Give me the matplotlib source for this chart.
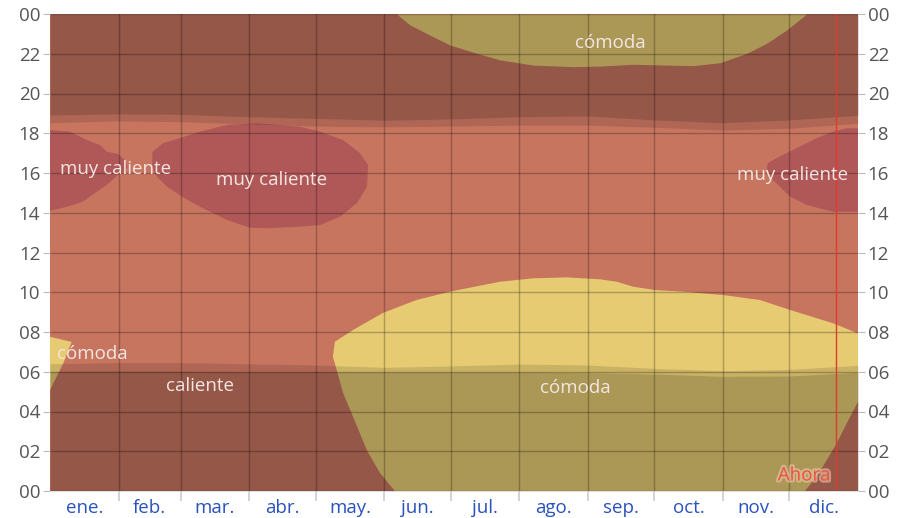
import numpy as np
import matplotlib
matplotlib.use("Agg")
import matplotlib.pyplot as plt
import matplotlib.patheffects as pe

plt.rcParams["font.family"] = ["Open Sans", "DejaVu Sans"]

# month starts (day of year) and labels
month_starts = [0, 31, 59, 90, 120, 151, 181, 212, 243, 273, 304, 334, 365]
month_labels = ["ene.", "feb.", "mar.", "abr.", "may.", "jun.",
                "jul.", "ago.", "sep.", "oct.", "nov.", "dic."]

# night / twilight edges (hours) at month starts
night_end = [6.02, 6.04, 6.03, 6.0, 6.0, 5.99, 5.99, 5.99, 5.95, 5.89, 5.77, 5.79, 5.97]
dawn_end = [6.40, 6.46, 6.46, 6.40, 6.34, 6.22, 6.29, 6.39, 6.34, 6.17, 6.05, 6.12, 6.32]
dusk_start = [18.53, 18.62, 18.58, 18.47, 18.36, 18.32, 18.36, 18.41, 18.41, 18.30, 18.16, 18.25, 18.5]
night_start = [18.92, 18.97, 18.95, 18.83, 18.75, 18.65, 18.72, 18.83, 18.87, 18.67, 18.53, 18.67, 18.9]

# "muy caliente" regions (day, hour) outlines
hot1_days = [0, 9, 16.7, 22.6, 25.7, 30.7, 33.9, 35, 33.9, 30.7, 25.7, 21.2, 14.9, 7.7, 0]
hot1_hours = [18.16, 18.08, 17.66, 17.4, 17.07, 16.96, 16.65, 16.3, 16.1, 15.9, 15.4, 15.06, 14.56, 14.3, 14.1]

hot2_days = [46.2, 51, 58.7, 67.8, 80, 93.5, 113, 122, 132.4, 140, 143.7,
             143.2, 138.7, 131, 122, 113, 98, 90.3, 80, 67.8, 59.6, 52.9, 48.3, 46.2]
hot2_hours = [17.05, 17.5, 17.76, 18.08, 18.42, 18.5, 18.33, 18.08, 17.66, 17.0, 16.4,
              15.31, 14.49, 13.8, 13.38, 13.3, 13.22, 13.25, 13.63, 14.3, 14.81, 15.31, 15.81, 16.3]

hot3_days = [365, 359.9, 353.7, 346.3, 338.8, 329.8, 324.3, 323.8, 326.6, 334.3, 341.8, 353.7, 365]
hot3_hours = [18.25, 18.25, 18.08, 17.75, 17.34, 16.84, 16.5, 16.25, 15.65, 14.81, 14.39, 14.05, 14.05]

# "cómoda" regions
comf_top_days = [156.6, 162.6, 173, 180.7, 192.8, 203.3, 218.2, 236.3, 248.5, 263.4,
                 278.6, 290.5, 302.7, 314.7, 323.8, 332.8, 341.8]
comf_top_hours = [24, 23.45, 22.86, 22.44, 22.02, 21.69, 21.43, 21.35, 21.38, 21.47,
                  21.43, 21.4, 21.55, 22.02, 22.53, 23.2, 24]

comf_bot_days = [155.8, 149.1, 143.1, 136.9, 132.4, 129.5, 127.8, 128.7, 136.9, 150.4,
                 165.6, 180.7, 203.3, 218.2, 233.4, 248.5, 256, 263.4, 273.3, 285.9,
                 304, 320.7, 334.3, 353.7, 365, 365, 359.9, 355.4, 350.9, 346.3, 341]
comf_bot_hours = [0, 0.9, 2.06, 3.74, 4.93, 6.09, 6.76, 7.51, 8.1, 8.96,
                  9.61, 10.03, 10.53, 10.7, 10.75, 10.65, 10.53, 10.28, 10.11, 10.03,
                  9.86, 9.61, 9.11, 8.44, 7.93, 4.49, 3.41, 2.4, 1.56, 0.72, 0]

comf_jan_days = [0, 9.8, 6.0, 0]
comf_jan_hours = [7.76, 7.5, 6.43, 5.08]

today = 355.1

c_hot = "#c87560"
c_very_hot = "#b05858"
c_comf = "#e6cb73"

fig = plt.figure(figsize=(9.05, 5.18), dpi=100)
ax = fig.add_axes([50 / 905, 27 / 518, 808 / 905, 477 / 518])

ax.fill_between([0, 365], 0, 24, color=c_hot, lw=0, zorder=1)
ax.fill(hot1_days, hot1_hours, color=c_very_hot, lw=0, zorder=1.1)
ax.fill(hot2_days, hot2_hours, color=c_very_hot, lw=0, zorder=1.1)
ax.fill(hot3_days, hot3_hours, color=c_very_hot, lw=0, zorder=1.1)
ax.fill_between(comf_top_days, comf_top_hours, 24, color=c_comf, lw=0, zorder=1.1)
ax.fill(comf_bot_days, comf_bot_hours, color=c_comf, lw=0, zorder=1.1)
ax.fill(comf_jan_days, comf_jan_hours, color=c_comf, lw=0, zorder=1.1)

# night shading
ax.fill_between(month_starts, 0, night_end, color="black", alpha=0.25, lw=0, zorder=1.2)
ax.fill_between(month_starts, night_end, dawn_end, color="black", alpha=0.12, lw=0, zorder=1.2)
ax.fill_between(month_starts, dusk_start, night_start, color="black", alpha=0.12, lw=0, zorder=1.2)
ax.fill_between(month_starts, night_start, 24, color="black", alpha=0.25, lw=0, zorder=1.2)

ax.axvline(today, color="#e03a2c", lw=1, zorder=3)
ax.text(today - 2.5, 0.78, "Ahora", color="#e8553f", fontsize=13.5, ha="right", va="center",
        zorder=4, path_effects=[pe.withStroke(linewidth=3, foreground="#f0c8b0", alpha=0.6)])

lab = dict(color="#f3e6e2", fontsize=13.5, ha="center", va="center", zorder=4)
ax.text(29.5, 16.2, "muy caliente", **lab)
ax.text(100.3, 15.65, "muy caliente", **lab)
ax.text(335.5, 15.9, "muy caliente", **lab)
ax.text(253, 22.55, "cómoda", **lab)
ax.text(19, 6.9, "cómoda", **lab)
ax.text(237.5, 5.2, "cómoda", **lab)
ax.text(67.8, 5.27, "caliente", **lab)

ax.set_xlim(0, 365)
ax.set_ylim(0, 24)
ax.set_xticks(month_starts[1:-1])
ax.set_xticklabels([])
mids = [(month_starts[i] + month_starts[i + 1]) / 2 for i in range(12)]
ax.set_xticks(mids, minor=True)
ax.set_xticklabels(month_labels, minor=True)
ax.tick_params(axis="x", which="major", length=7, color="#cccccc", width=1.2)
ax.tick_params(axis="x", which="minor", length=0, labelcolor="#2a52be", labelsize=13.5, pad=6)

hours = list(range(0, 25, 2))
ax.set_yticks(hours)
ax.set_yticklabels(["%02d" % (h % 24) for h in hours])
ax.tick_params(axis="y", left=True, right=True, labelleft=True, labelright=True,
               length=5, color="#bbbbbb", labelcolor="#555555", labelsize=13.5, pad=2)

ax.set_axisbelow(False)
ax.grid(True, which="major", color="black", alpha=0.25, lw=1)
for s in ax.spines.values():
    s.set_visible(False)

fig.savefig("out.png", dpi=100)
